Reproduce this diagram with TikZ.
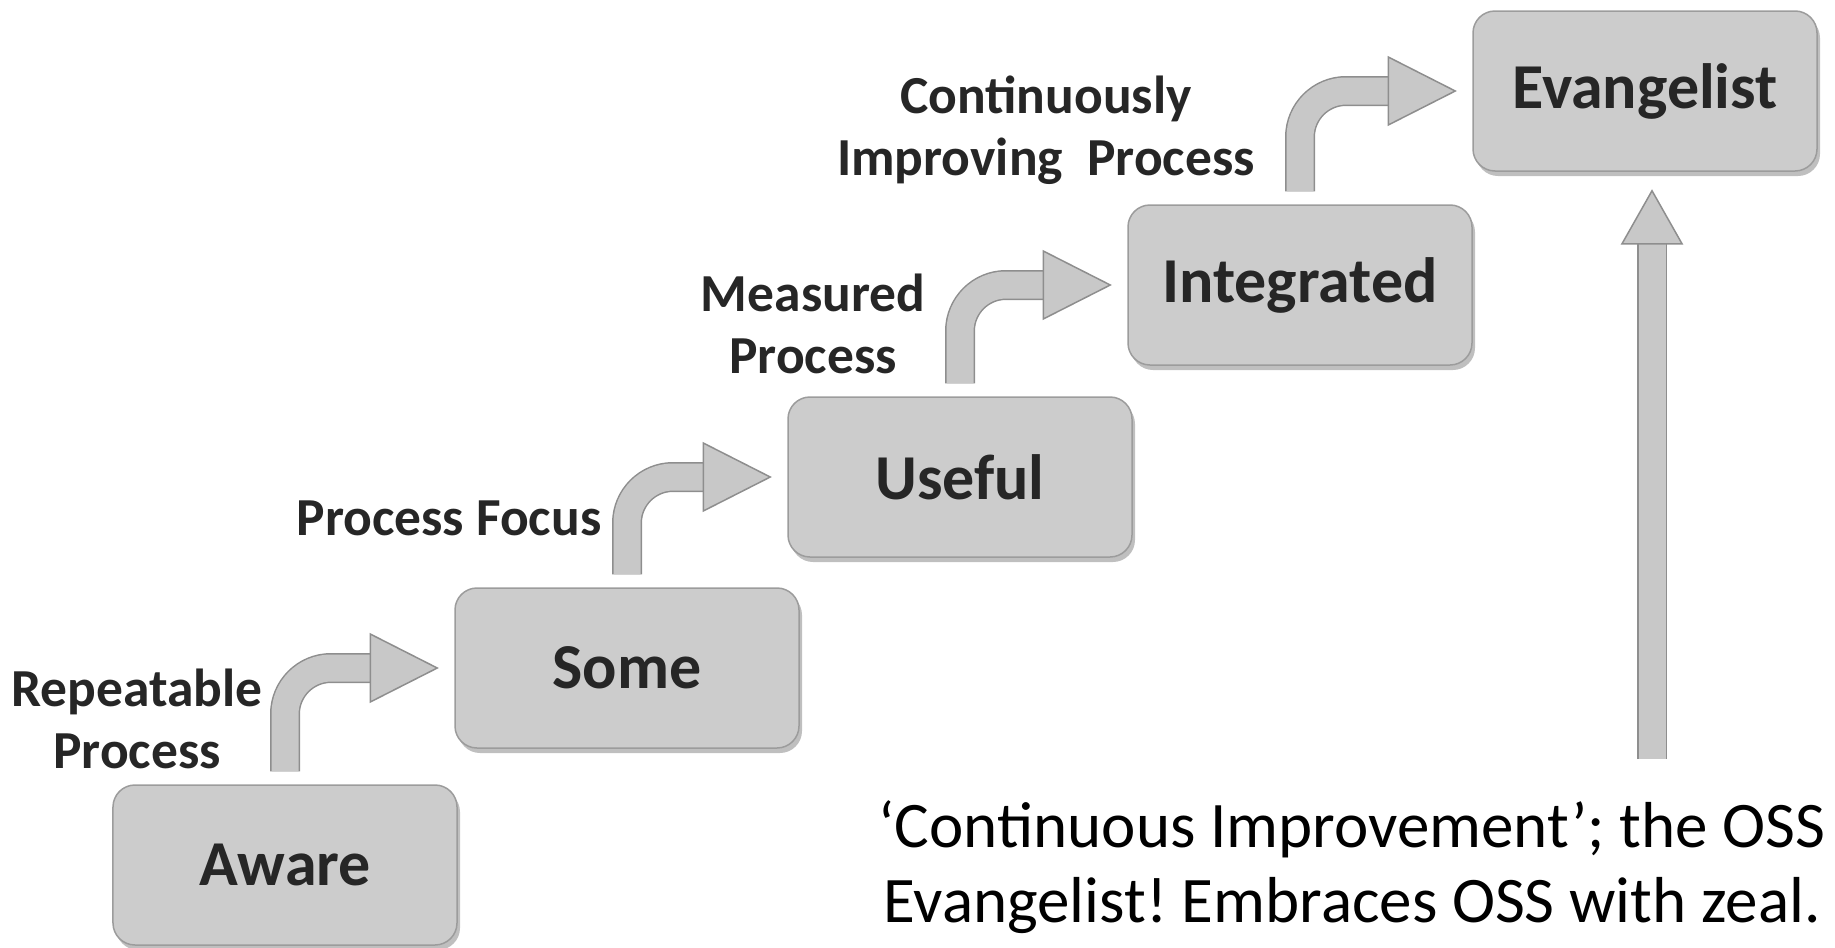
\documentclass[tikz,border=0pt]{standalone}
\usepackage{fontspec}
\setmainfont{Carlito}
\usetikzlibrary{calc,shadows}
\definecolor{boxfill}{HTML}{CCCCCC}
\definecolor{boxedge}{HTML}{9C9C9C}
\definecolor{arrfill}{HTML}{C8C8C8}
\definecolor{arredge}{HTML}{8E8E8E}
\definecolor{ink}{HTML}{262626}
\frenchspacing
\newcommand\stepArrow[2]{%
  \draw[shaftout] ([yshift=13bp]#1.north) |- ([xshift=-82bp]#2.west);
  \draw[shaftin] ([yshift=13bp]#1.north) |- ([xshift=-82bp]#2.west);
  \draw[headst] ([xshift=-17bp]#2.west) -- ++(-67,-34) -- ++(0,68) -- cycle;
}
\begin{document}
\begin{tikzpicture}[x=1bp,y=-1bp,
  stage/.style={draw=boxedge, line width=1.5bp, fill=boxfill, rounded corners=22bp,
    minimum width=344bp, minimum height=160bp, inner sep=0pt, text=ink,
    font=\bfseries\fontsize{64bp}{72bp}\selectfont,
    drop shadow={shadow xshift=3bp, shadow yshift=-5bp, opacity=0.25, fill=black}},
  lbl/.style={align=center, text=ink, font=\bfseries\fontsize{53.5bp}{62bp}\selectfont, inner sep=0pt},
  shaftout/.style={draw=arredge, line width=30bp, rounded corners=46bp},
  shaftin/.style={draw=arrfill, line width=27bp, rounded corners=46bp},
  headst/.style={draw=arredge, fill=arrfill, line width=1.5bp, line join=miter}
]
\useasboundingbox (0,0) rectangle (1835,947);

% stages
\node[stage] (aware) at (285,865) {Aware};
\node[stage] (some) at (627,668) {Some};
\node[stage] (useful) at (960,477) {Useful};
\node[stage] (integrated) at (1300,285) {Integrated};
\node[stage] (evangelist) at (1645,91) {Evangelist};

% labels
\node[lbl] (lrep) at (137,719) {Repeatable\\Process};
\node[lbl, anchor=base] (lfocus) at (449,535) {Process Focus};
\node[lbl] (lmeas) at (813,324) {Measured\\Process};
\node[lbl] (lcont) at (1046,130) {Continuously\\Improving\ \ Process};

% step arrows
\stepArrow{aware}{some}
\stepArrow{some}{useful}
\stepArrow{useful}{integrated}
\stepArrow{integrated}{evangelist}

% vertical arrow
\coordinate (vbot) at (1652,759);
\draw[shaftout, rounded corners=0pt] (vbot) -- ($(evangelist.south -| vbot)+(0,70)$);
\draw[shaftin, rounded corners=0pt] (vbot) -- ($(evangelist.south -| vbot)+(0,70)$);
\draw[headst] ($(evangelist.south -| vbot)+(0,19)$) -- ++(-30,53) -- ++(60,0) -- cycle;

% note
\node[align=center, text=black, font=\fontsize{65bp}{75bp}\selectfont, inner sep=0pt] (note) at (1352,867)
  {‘Continuous Improvement’; the OSS\\Evangelist! Embraces OSS with zeal.};
\end{tikzpicture}
\end{document}
